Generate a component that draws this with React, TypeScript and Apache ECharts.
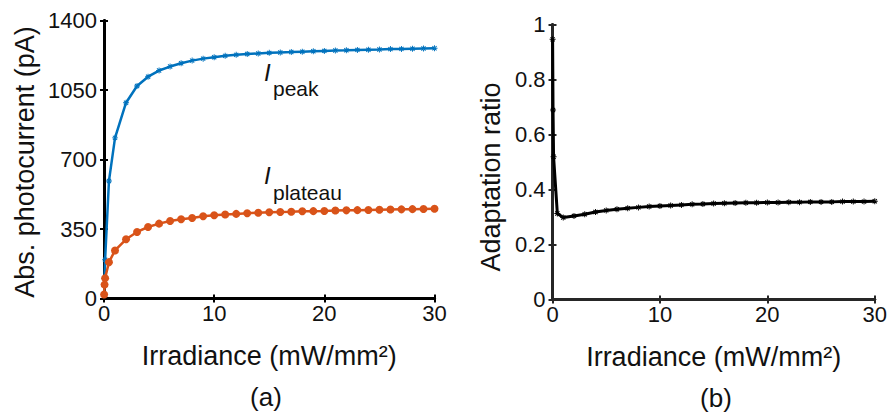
import React, { useEffect, useRef } from "react";
import * as echarts from "echarts";

// Irradiance values (mW/mm^2)
const irradiance = [
  0.01, 0.05, 0.1, 0.45, 1, 2, 3, 4, 5, 6, 7, 8, 9, 10, 11, 12, 13, 14, 15,
  16, 17, 18, 19, 20, 21, 22, 23, 24, 25, 26, 27, 28, 29, 30,
];
// Peak photocurrent (pA)
const peakCurrent = [
  21, 102, 195, 592, 809, 986, 1070, 1117, 1148, 1168, 1185, 1198, 1208, 1215,
  1222, 1227, 1231, 1234, 1237, 1239, 1241, 1243, 1245, 1247, 1249, 1250, 1252,
  1253, 1254, 1256, 1257, 1258, 1259, 1260,
];
// Plateau photocurrent (pA)
const plateauCurrent = [
  20, 70, 102, 183, 242, 298, 335, 360, 377, 390, 399, 405, 414, 419, 423, 426,
  429, 432, 434, 436, 437, 439, 440, 441, 443, 444, 445, 446, 447, 448, 449, 450,
  451, 452,
];
// Adaptation ratio
const adaptationRatio = [
  0.946, 0.689, 0.519, 0.313, 0.298, 0.304, 0.31, 0.318, 0.324, 0.328, 0.332,
  0.335, 0.338, 0.34, 0.342, 0.344, 0.346, 0.347, 0.349, 0.35, 0.351, 0.352,
  0.352, 0.353, 0.353, 0.354, 0.354, 0.355, 0.355, 0.355, 0.356, 0.356, 0.356,
  0.357,
];

const xTicks = { min: 0, max: 30, interval: 10 };
const yTicksA = { min: 0, max: 1400, interval: 350 };
const yTicksB = { min: 0, max: 1, interval: 0.2 };

const FONT = "'Liberation Sans', Arial, sans-serif";
const ASTERISK =
  "path://M-0.8 -5 L0.8 -5 L0.8 5 L-0.8 5 Z M-5 -0.8 L5 -0.8 L5 0.8 L-5 0.8 Z " +
  "M-2.9 -4.1 L4.1 2.9 L2.9 4.1 L-4.1 -2.9 Z M-2.9 4.1 L4.1 -2.9 L2.9 -4.1 L-4.1 2.9 Z";

function pairs(xs: number[], ys: number[]) {
  return xs.map((x, i) => [x, ys[i]]);
}
const fmt = (v: number) => String(Number(v.toFixed(3)));

export default function App() {
  const ref = useRef<HTMLDivElement>(null);
  useEffect(() => {
    if (!ref.current) return;
    const chart = echarts.init(ref.current, undefined, { renderer: "svg" });
    const tickLabel = { fontFamily: FONT, fontSize: 22, color: "#111", formatter: fmt };
    const mkX = (gi: number, color: string) => [
      {
        type: "value",
        gridIndex: gi,
        ...xTicks,
        position: "bottom",
        axisLine: { show: true, lineStyle: { color, width: 3 } },
        axisTick: { show: true, inside: true, length: 4, lineStyle: { color, width: 2 } },
        axisLabel: { ...tickLabel, margin: 4 },
        splitLine: { show: false },
        name: "Irradiance (mW/mm²)",
        nameLocation: "middle",
        nameGap: 44,
        nameTextStyle: { fontFamily: FONT, fontSize: 27, color: "#111" },
      },
      {
        type: "value",
        gridIndex: gi,
        ...xTicks,
        position: "top",
        axisLine: { show: true, lineStyle: { color, width: 3 } },
        axisTick: { show: true, inside: true, length: 4, lineStyle: { color, width: 2 } },
        axisLabel: { show: false },
        splitLine: { show: false },
      },
    ];
    const mkY = (gi: number, ticks: any, color: string) => [
      {
        type: "value",
        gridIndex: gi,
        ...ticks,
        position: "left",
        axisLine: { show: true, lineStyle: { color, width: 3 } },
        axisTick: { show: true, inside: true, length: 4, lineStyle: { color, width: 2 } },
        axisLabel: { ...tickLabel, margin: 7 },
        splitLine: { show: false },
      },
      {
        type: "value",
        gridIndex: gi,
        ...ticks,
        position: "right",
        axisLine: { show: true, lineStyle: { color, width: 3 } },
        axisTick: { show: true, inside: true, length: 4, lineStyle: { color, width: 2 } },
        axisLabel: { show: false },
        splitLine: { show: false },
      },
    ];
    const label = (text: string, x: number, y: number, size: number, extra: any = {}) => ({
      type: "text",
      x,
      y,
      ...extra,
      style: {
        text,
        fontFamily: FONT,
        fontSize: size,
        fill: "#111",
        align: extra.align || "center",
        verticalAlign: "middle",
        fontStyle: extra.fontStyle || "normal",
      },
    });
    chart.setOption({
      animation: false,
      backgroundColor: "#ffffff",
      grid: [
        { left: 104, right: 455.5, top: 20.5, bottom: 115.5 },
        { left: 552.5, right: 12, top: 24.5, bottom: 114.5 },
      ],
      xAxis: [...mkX(0, "#000"), ...mkX(1, "#262626")],
      yAxis: [...mkY(0, yTicksA, "#000"), ...mkY(1, yTicksB, "#262626")],
      series: [
        {
          name: "Ipeak",
          type: "line",
          xAxisIndex: 0,
          yAxisIndex: 0,
          data: pairs(irradiance, peakCurrent),
          lineStyle: { color: "#0072BD", width: 2.5 },
          itemStyle: { color: "#0072BD" },
          symbol: ASTERISK,
          symbolSize: 6,
          showSymbol: true,
        },
        {
          name: "Iplateau",
          type: "line",
          xAxisIndex: 0,
          yAxisIndex: 0,
          data: pairs(irradiance, plateauCurrent),
          lineStyle: { color: "#D95319", width: 2.5 },
          itemStyle: { color: "#D95319" },
          symbol: "circle",
          symbolSize: 8,
          showSymbol: true,
        },
        {
          name: "Adaptation ratio",
          type: "line",
          xAxisIndex: 2,
          yAxisIndex: 2,
          data: pairs(irradiance, adaptationRatio),
          lineStyle: { color: "#000", width: 3 },
          itemStyle: { color: "#000" },
          symbol: ASTERISK,
          symbolSize: 6,
          showSymbol: true,
        },
      ],
      graphic: [
        label("Abs. photocurrent (pA)", 25, 162, 27, { rotation: Math.PI / 2 }),
        label("Adaptation ratio", 491, 177, 27, { rotation: Math.PI / 2 }),
        label("(a)", 266, 397, 26),
        label("(b)", 716, 398, 26),
        label("I", 264, 72, 24, { align: "left", fontStyle: "italic" }),
        label("peak", 273, 88, 21, { align: "left" }),
        label("I", 264, 175, 24, { align: "left", fontStyle: "italic" }),
        label("plateau", 273, 192, 21, { align: "left" }),
      ],
    });
    return () => chart.dispose();
  }, []);
  return <div ref={ref} style={{ width: 890, height: 414, position: "absolute", left: 0, top: 0 }} />;
}
